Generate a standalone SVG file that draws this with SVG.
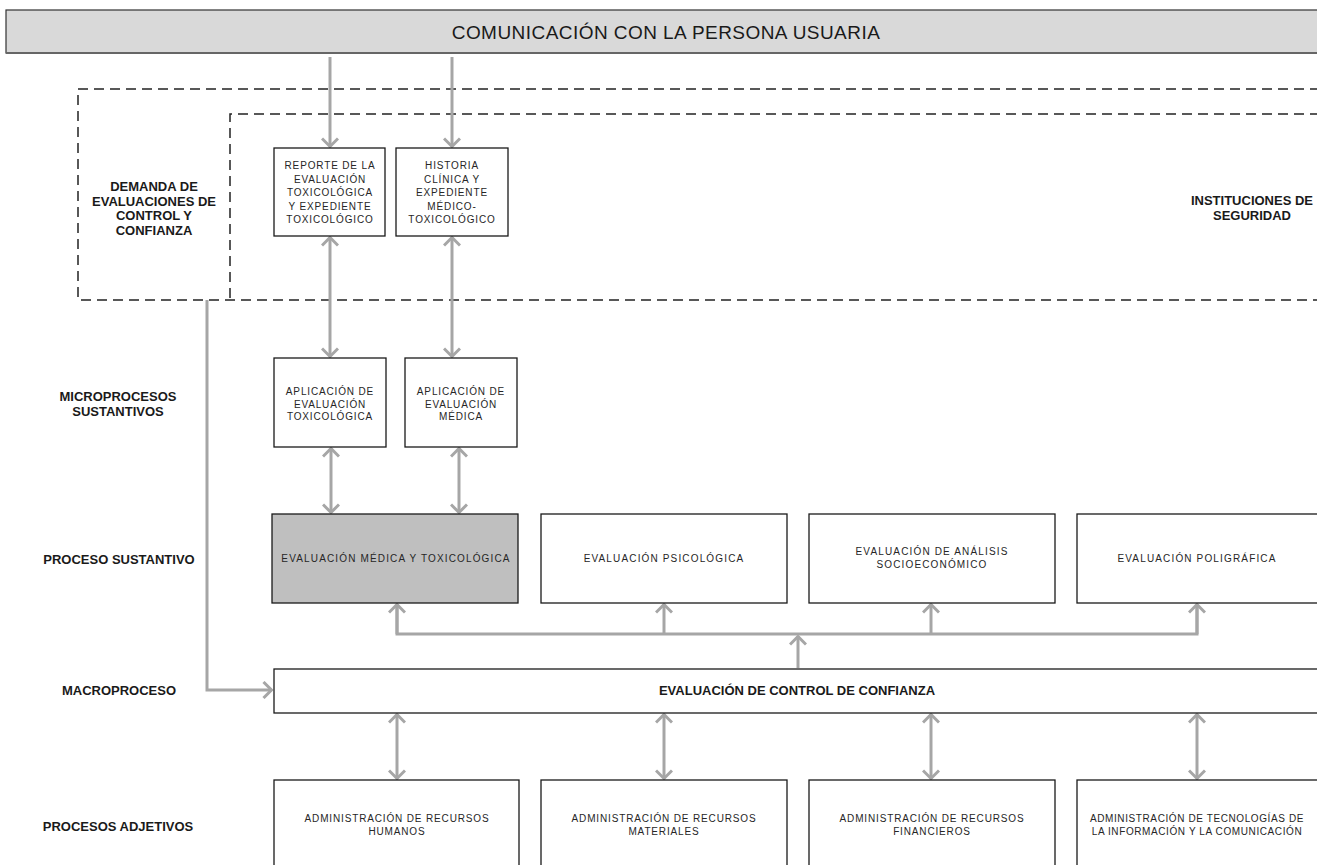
<svg xmlns="http://www.w3.org/2000/svg" width="1317" height="865" viewBox="0 0 1317 865">
<style>
.box{fill:#fff;stroke:#1a1a1a;stroke-width:1.3}
.dash{fill:none;stroke:#222;stroke-width:1.5;stroke-dasharray:10 6}
.conn{fill:none;stroke:#a6a6a6;stroke-width:3}
.t{font-family:"Liberation Sans",Arial,sans-serif;font-size:10px;letter-spacing:0.85px;fill:#262626;text-anchor:middle;dominant-baseline:central}
.p{letter-spacing:1.15px}
.b{font-family:"Liberation Sans",Arial,sans-serif;font-size:13px;font-weight:bold;fill:#1a1a1a;text-anchor:middle;dominant-baseline:central}
.h{font-family:"Liberation Sans",Arial,sans-serif;font-size:19px;letter-spacing:0.45px;fill:#1a1a1a;text-anchor:middle;dominant-baseline:central}
</style>
<defs>
<marker id="ah" viewBox="0 0 12 18" refX="10.5" refY="9" markerWidth="12" markerHeight="18" markerUnits="userSpaceOnUse" orient="auto-start-reverse">
<path d="M2,1 L10,9 L2,17" fill="none" stroke="#a6a6a6" stroke-width="3"/>
</marker>
</defs>
<rect width="1317" height="865" fill="#fff"/>

<g id="header">
<rect x="6" y="10" width="1320" height="43" fill="#d9d9d9" stroke="#333" stroke-width="1.2"/>
<line x1="6" y1="53" x2="1317" y2="53" stroke="#666" stroke-width="2"/>
<text class="h" x="666" y="32">COMUNICACIÓN CON LA PERSONA USUARIA</text>
</g>

<g id="zones">
<path class="dash" d="M1320,89 H78 V300 H1320"/>
<path class="dash" d="M1320,114 H230 V300"/>
<text class="b"><tspan x="154" y="186">DEMANDA DE</tspan><tspan x="154" y="200.5">EVALUACIONES DE</tspan><tspan x="154" y="215">CONTROL Y</tspan><tspan x="154" y="229.5">CONFIANZA</tspan></text>
<text class="b"><tspan x="1252" y="200">INSTITUCIONES DE</tspan><tspan x="1252" y="215">SEGURIDAD</tspan></text>
</g>

<g id="labels">
<text class="b"><tspan x="118" y="396">MICROPROCESOS</tspan><tspan x="118" y="411">SUSTANTIVOS</tspan></text>
<text class="b" x="119" y="559">PROCESO SUSTANTIVO</text>
<text class="b" x="119" y="690">MACROPROCESO</text>
<text class="b" x="118" y="826">PROCESOS ADJETIVOS</text>
</g>

<g id="connectors">
<line class="conn" x1="330" y1="57" x2="330" y2="147" marker-end="url(#ah)"/>
<line class="conn" x1="452" y1="57" x2="452" y2="147" marker-end="url(#ah)"/>
<line class="conn" x1="330" y1="237" x2="330" y2="357" marker-start="url(#ah)" marker-end="url(#ah)"/>
<line class="conn" x1="452" y1="237" x2="452" y2="357" marker-start="url(#ah)" marker-end="url(#ah)"/>
<line class="conn" x1="331" y1="448" x2="331" y2="513" marker-start="url(#ah)" marker-end="url(#ah)"/>
<line class="conn" x1="459" y1="448" x2="459" y2="513" marker-start="url(#ah)" marker-end="url(#ah)"/>
<path class="conn" d="M397,604 V634 H1197 V604"/>
<line class="conn" x1="397" y1="634" x2="397" y2="604" marker-end="url(#ah)"/>
<line class="conn" x1="664" y1="634" x2="664" y2="604" marker-end="url(#ah)"/>
<line class="conn" x1="931" y1="634" x2="931" y2="604" marker-end="url(#ah)"/>
<line class="conn" x1="1197" y1="634" x2="1197" y2="604" marker-end="url(#ah)"/>
<line class="conn" x1="798" y1="668" x2="798" y2="636" marker-end="url(#ah)"/>
<path class="conn" d="M207,300 V690 H272" marker-end="url(#ah)"/>
<line class="conn" x1="397" y1="714" x2="397" y2="779" marker-start="url(#ah)" marker-end="url(#ah)"/>
<line class="conn" x1="664" y1="714" x2="664" y2="779" marker-start="url(#ah)" marker-end="url(#ah)"/>
<line class="conn" x1="931" y1="714" x2="931" y2="779" marker-start="url(#ah)" marker-end="url(#ah)"/>
<line class="conn" x1="1197" y1="714" x2="1197" y2="779" marker-start="url(#ah)" marker-end="url(#ah)"/>
</g>

<g id="reporte">
<rect class="box" x="274" y="148" width="111" height="88"/>
<text class="t"><tspan x="330" y="165">REPORTE DE LA</tspan><tspan x="330" y="178.5">EVALUACIÓN</tspan><tspan x="330" y="192">TOXICOLÓGICA</tspan><tspan x="330" y="205.5">Y EXPEDIENTE</tspan><tspan x="330" y="219">TOXICOLÓGICO</tspan></text>
</g>
<g id="historia">
<rect class="box" x="396" y="148" width="112" height="88"/>
<text class="t"><tspan x="452" y="165">HISTORIA</tspan><tspan x="452" y="178.5">CLÍNICA Y</tspan><tspan x="452" y="192">EXPEDIENTE</tspan><tspan x="452" y="205.5">MÉDICO-</tspan><tspan x="452" y="219">TOXICOLÓGICO</tspan></text>
</g>

<g id="aplic-tox">
<rect class="box" x="274" y="358" width="112" height="89"/>
<text class="t"><tspan x="330" y="391">APLICACIÓN DE</tspan><tspan x="330" y="403.5">EVALUACIÓN</tspan><tspan x="330" y="416">TOXICOLÓGICA</tspan></text>
</g>
<g id="aplic-med">
<rect class="box" x="405" y="358" width="112" height="89"/>
<text class="t"><tspan x="461" y="391">APLICACIÓN DE</tspan><tspan x="461" y="403.5">EVALUACIÓN</tspan><tspan x="461" y="416">MÉDICA</tspan></text>
</g>

<g id="eval-med">
<rect class="box" x="272" y="514" width="246" height="89" style="fill:#bfbfbf"/>
<text class="t p" x="396" y="558">EVALUACIÓN MÉDICA Y TOXICOLÓGICA</text>
</g>
<g id="eval-psi">
<rect class="box" x="541" y="514" width="246" height="89"/>
<text class="t p" x="664" y="558">EVALUACIÓN PSICOLÓGICA</text>
</g>
<g id="eval-soc">
<rect class="box" x="809" y="514" width="246" height="89"/>
<text class="t p"><tspan x="932" y="551">EVALUACIÓN DE ANÁLISIS</tspan><tspan x="932" y="564">SOCIOECONÓMICO</tspan></text>
</g>
<g id="eval-pol">
<rect class="box" x="1077" y="514" width="245" height="89"/>
<text class="t p" x="1197" y="558">EVALUACIÓN POLIGRÁFICA</text>
</g>

<g id="macro">
<rect class="box" x="274" y="669" width="1050" height="44"/>
<text class="b" x="797" y="690">EVALUACIÓN DE CONTROL DE CONFIANZA</text>
</g>

<g id="adm-rh">
<rect class="box" x="274" y="780" width="245" height="95"/>
<text class="t"><tspan x="397" y="818">ADMINISTRACIÓN DE RECURSOS</tspan><tspan x="397" y="831">HUMANOS</tspan></text>
</g>
<g id="adm-rm">
<rect class="box" x="541" y="780" width="246" height="95"/>
<text class="t"><tspan x="664" y="818">ADMINISTRACIÓN DE RECURSOS</tspan><tspan x="664" y="831">MATERIALES</tspan></text>
</g>
<g id="adm-rf">
<rect class="box" x="809" y="780" width="246" height="95"/>
<text class="t"><tspan x="932" y="818">ADMINISTRACIÓN DE RECURSOS</tspan><tspan x="932" y="831">FINANCIEROS</tspan></text>
</g>
<g id="adm-tic">
<rect class="box" x="1077" y="780" width="245" height="95"/>
<text class="t" style="letter-spacing:0.6px"><tspan x="1197" y="818">ADMINISTRACIÓN DE TECNOLOGÍAS DE</tspan><tspan x="1197" y="831">LA INFORMACIÓN Y LA COMUNICACIÓN</tspan></text>
</g>
</svg>
